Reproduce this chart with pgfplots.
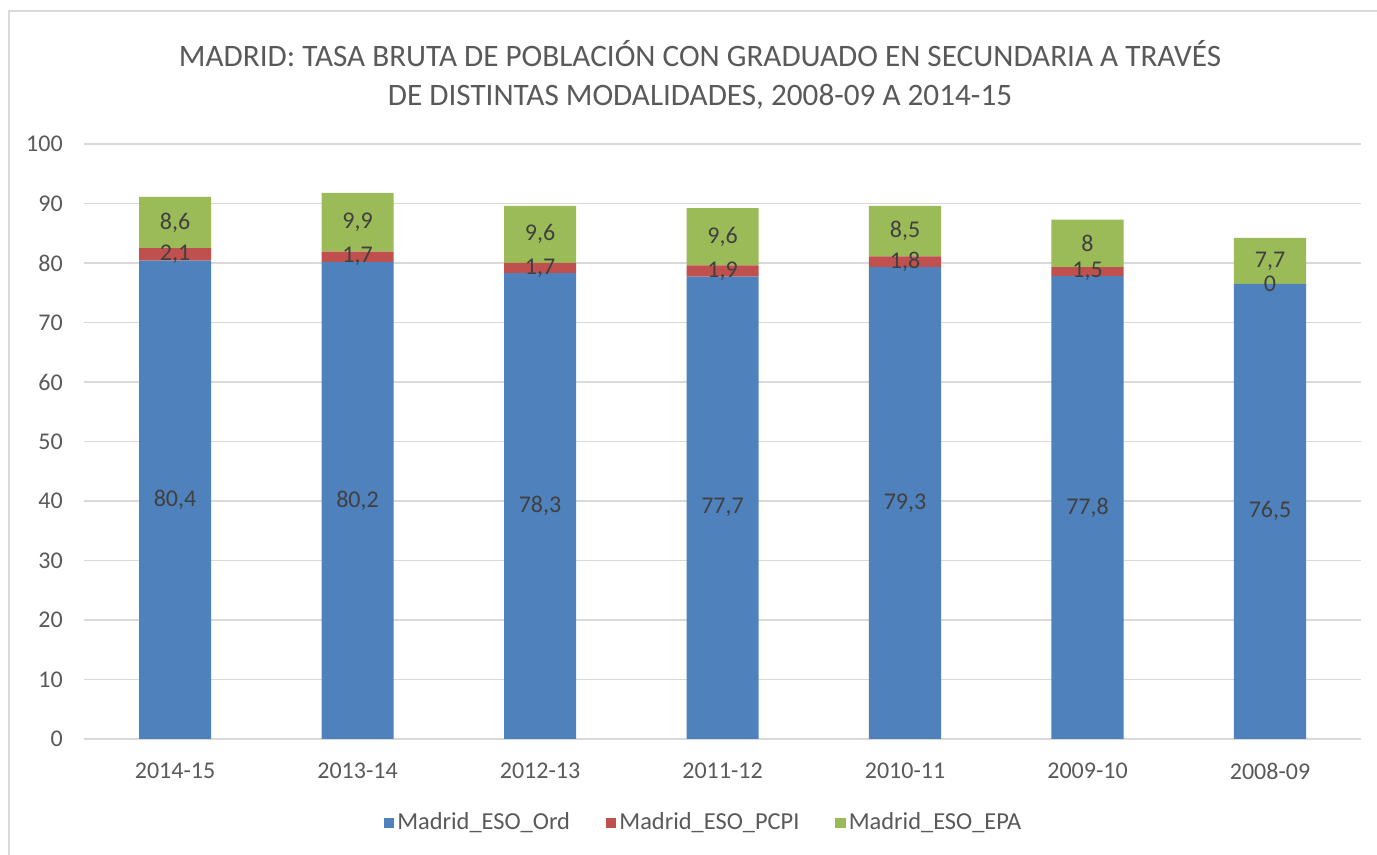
\documentclass[border=0pt]{standalone}
\usepackage{fontspec}
\setmainfont{Carlito}
\usepackage{pgfplots}
\usepackage{pgfplotstable}
\pgfplotsset{compat=1.18}
\definecolor{cOrd}{HTML}{4F81BD}
\definecolor{cPCPI}{HTML}{C0504D}
\definecolor{cEPA}{HTML}{9BBB59}
\definecolor{txt}{HTML}{595959}
\definecolor{lbl}{HTML}{404040}
\definecolor{gridc}{HTML}{D9D9D9}

\pgfplotstableread{
x ord pcpi epa
0 80.4 2.1 8.6
1 80.2 1.7 9.9
2 78.3 1.7 9.6
3 77.7 1.9 9.6
4 79.3 1.8 8.5
5 77.8 1.5 8.0
6 76.5 0.0 7.7
}\datatab

\pgfplotstableread{
x y v
0 40.2 80.4
1 40.1 80.2
2 39.15 78.3
3 38.85 77.7
4 39.65 79.3
5 38.9 77.8
6 38.25 76.5
0 81.45 2.1
1 81.05 1.7
2 79.15 1.7
3 78.65 1.9
4 80.2 1.8
5 78.55 1.5
6 76.5 0
0 86.8 8.6
1 86.85 9.9
2 84.8 9.6
3 84.4 9.6
4 85.35 8.5
5 83.3 8
6 80.35 7.7
}\labtab

\begin{document}
\begin{tikzpicture}
\useasboundingbox (0pt,0pt) rectangle (688.5pt,427.5pt);
\draw[gridc, line width=1pt] (4.5pt,0pt) -- (4.5pt,422pt) -- (688.5pt,422pt);
\node[text=txt, font=\fontsize{15.6}{18}\selectfont] at (350pt,400.5pt) {MADRID: TASA BRUTA DE POBLACIÓN CON GRADUADO EN SECUNDARIA A TRAVÉS};
\node[text=txt, font=\fontsize{15.6}{18}\selectfont] at (350pt,379pt) {DE DISTINTAS MODALIDADES, 2008-09 A 2014-15};

\pgfplotsset{base/.style={
  at={(41.875pt,58pt)}, anchor=south west,
  scale only axis, width=638.75pt, height=297.5pt,
  xmin=-0.5, xmax=6.5, ymin=0, ymax=100,
}}

\begin{axis}[base,
  ybar stacked, bar width=36pt,
  axis line style={draw=none},
  major tick length=0pt,
  ytick={0,10,...,100},
  ymajorgrids, grid style={gridc, line width=0.8pt},
  xtick={0,...,6},
  xticklabels={2014-15,2013-14,2012-13,2011-12,2010-11,2009-10,2008-09},
  tick label style={text=txt, font=\fontsize{12}{14}\selectfont},
  /pgf/number format/assume math mode=true,
  xticklabel style={yshift=-8.5pt, text depth=0pt},
  yticklabel style={xshift=-7pt},
  legend columns=3,
  legend style={at={(0.486,-0.141)}, anchor=center, draw=none,
    font=\fontsize{12.2}{14}\selectfont, text=txt,
    /tikz/every odd column/.append style={column sep=-0.5pt},
    /tikz/every even column/.append style={column sep=16pt}},
  legend image code/.code={\fill[#1] (0pt,-2.6pt) rectangle (5.2pt,2.6pt);},
]
\addplot[fill=cOrd, draw=none] table[x=x,y=ord] {\datatab};
\addplot[fill=cPCPI, draw=none] table[x=x,y=pcpi] {\datatab};
\addplot[fill=cEPA, draw=none] table[x=x,y=epa] {\datatab};
\legend{Madrid\_ESO\_Ord, Madrid\_ESO\_PCPI, Madrid\_ESO\_EPA}
\end{axis}

\begin{axis}[base, hide axis]
\addplot[draw=none, mark=none, only marks,
  nodes near coords={\pgfmathprintnumber[use comma,fixed,precision=1,assume math mode=true]{\pgfplotspointmeta}},
  point meta=explicit,
  nodes near coords style={anchor=center, text=lbl, font=\fontsize{12}{14}\selectfont},
  ] table[x=x,y=y,meta=v] {\labtab};
\end{axis}
\end{tikzpicture}
\end{document}
